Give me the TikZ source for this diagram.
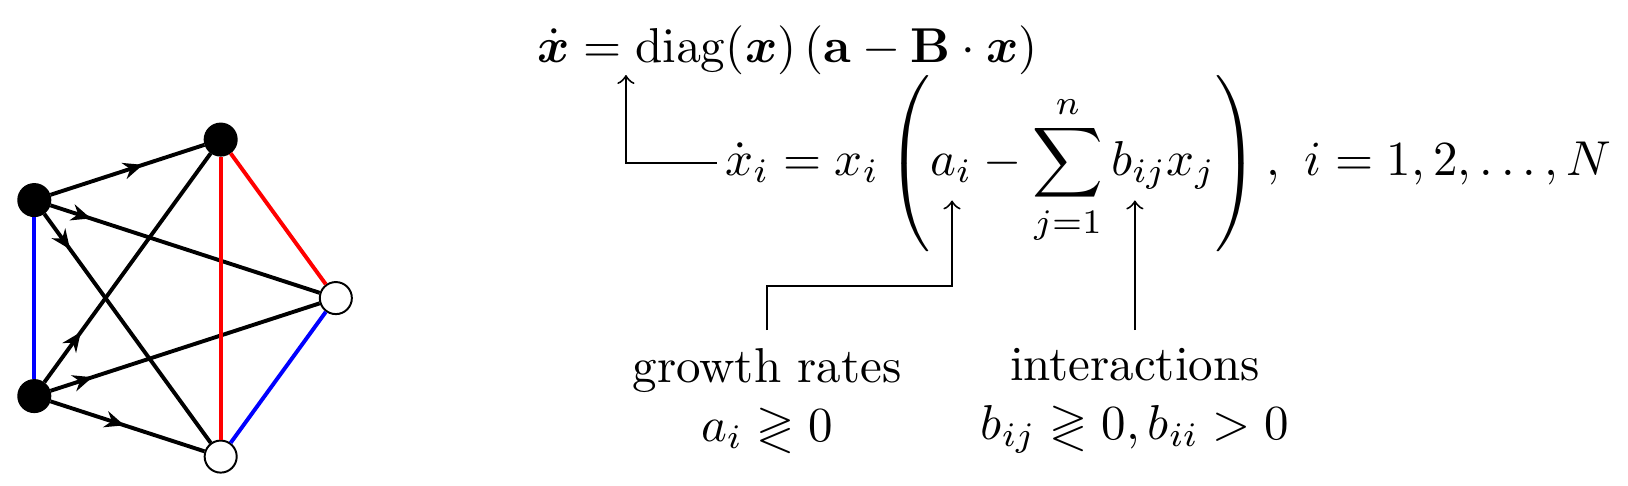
\documentclass[tikz,border=0pt]{standalone}
\usepackage{amsmath}
\usepackage{amssymb}
\usepackage{xcolor}
\usepackage{tikz}
\usetikzlibrary{arrows.meta,decorations.markings,positioning}
\tikzset{>=to}
\tikzset{full node/.style={circle,fill=black,draw,minimum size=.23cm,inner sep=0pt},
         empty node/.style={circle,fill=white,draw,thin,minimum size=.23cm,inner sep=0pt},
         mid arrow/.style={postaction={decorate},decoration={markings,
             mark=at position #1 with {\arrow{Stealth[length=4pt,width=3.4pt,inset=1.3pt]}}}},
         eq node/.style={inner sep=0pt},
         label node/.style={align=center,inner xsep=0pt,inner ysep=3.6pt},
            }

\begin{document}
\begin{tikzpicture}
    \useasboundingbox (0,0) rectangle (11.678,-3.486);

    % the graph
    \node[full node] (1) at (1.583,-1.001) {};
    \node[full node] (2) at (0.246,-1.435) {};
    \node[full node] (3) at (0.246,-2.841) {};
    \node[empty node] (4) at (1.583,-3.275) {};
    \node[empty node] (5) at (2.409,-2.138) {};

    \path[draw,thick]
    (2) edge[mid arrow=0.60] (1)
    (2) edge[mid arrow=0.15] (5)
    (2) edge[mid arrow=0.155] (4)
    (3) edge[mid arrow=0.22] (1)
    (3) edge[mid arrow=0.156] (5)
    (3) edge[mid arrow=0.48] (4);

    \path[draw,thick]
    (2) edge[blue] (3)
    (5) edge[blue] (4)
    (1) edge[red] (5)
    (1) edge[red] (4);

    % the equations
    \node[eq node,anchor=base west] (sys) at (3.852,-0.445)
        {$\dot{\boldsymbol{x}} = \mathrm{diag}(\boldsymbol{x})\,(\mathbf{a} - \mathbf{B}\cdot\boldsymbol{x})$};
    \node[eq node,anchor=west,inner xsep=1.5pt] (lv) at (5.143,-1.171)
        {$\displaystyle \dot{x}_i = x_i \left(a_i - \sum_{j=1}^{n} b_{ij}x_j\right),\ i = 1,2,\dots,N$};

    \node[label node,anchor=north] (growth) at (5.502,-2.367) {growth rates\\ $a_i \gtrless 0$};
    \node[label node,anchor=north] (inter) at (8.141,-2.367) {interactions\\ $b_{ij} \gtrless 0, b_{ii} > 0$};

    \coordinate (top) at (4.490,-0.538);
    \coordinate (ai) at (6.829,-1.438);
    \coordinate (bij) at (8.141,-1.438);

    \draw[->] (lv.west) -| (top);
    \draw[->] (growth.north) -- ++(0,0.315) -| (ai);
    \draw[->] (inter.north) -- (bij);

\end{tikzpicture}
\end{document}
